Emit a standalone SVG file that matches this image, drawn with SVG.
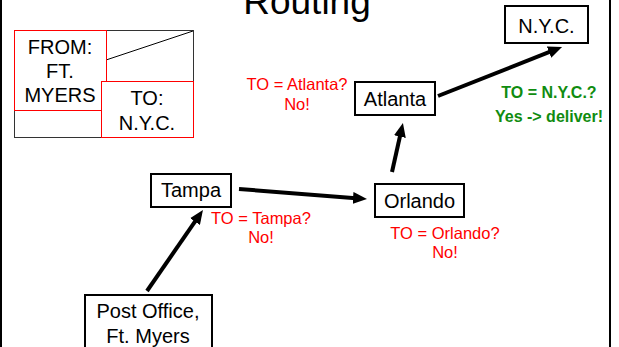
<svg xmlns="http://www.w3.org/2000/svg" width="619" height="347" viewBox="0 0 619 347">
<defs>
<style>
text{font-family:"Liberation Sans",Arial,sans-serif;}
.box{fill:#fff;stroke:#000;stroke-width:2;}
.lbl{font-size:20px;fill:#000;text-anchor:middle;}
.red{font-size:16.5px;fill:#ff0000;text-anchor:middle;}
.grn{font-size:16px;fill:#108c10;font-weight:bold;text-anchor:middle;}
.stamp{font-size:20px;fill:#000;text-anchor:middle;}
.conn{stroke:#000;stroke-width:4;fill:none;marker-end:url(#ah);}
</style>
<marker id="ah" markerUnits="userSpaceOnUse" markerWidth="14" markerHeight="12" refX="6" refY="6" orient="auto">
<path d="M0,0 L14,6 L0,12 z" fill="#000"/>
</marker>
</defs>
<rect width="619" height="347" fill="#fff"/>
<line x1="1" y1="0" x2="1" y2="347" stroke="#000" stroke-width="2"/>
<line x1="610" y1="0" x2="610" y2="347" stroke="#000" stroke-width="2"/>
<text x="307" y="14" font-size="37" text-anchor="middle" fill="#000">Routing</text>

<g id="envelope">
<rect x="14.5" y="30.5" width="179" height="107" fill="#fff" stroke="#333" stroke-width="1"/>
<line x1="106" y1="60" x2="193" y2="31" stroke="#000" stroke-width="1"/>
<rect x="14.5" y="30.5" width="92" height="80" fill="#fff" stroke="#ff0000" stroke-width="1"/>
<rect x="101.5" y="81.5" width="92" height="56" fill="#fff" stroke="#ff0000" stroke-width="1"/>
<text class="stamp" x="60" y="54">FROM:</text>
<text class="stamp" x="60" y="78">FT.</text>
<text class="stamp" x="60" y="102">MYERS</text>
<text class="stamp" x="147" y="105">TO:</text>
<text class="stamp" x="147" y="130">N.Y.C.</text>
</g>

<g id="connectors">
<line class="conn" x1="147" y1="291" x2="198.4" y2="216.6"/>
<line class="conn" x1="239" y1="189" x2="359" y2="198.4"/>
<line class="conn" x1="392" y1="172" x2="401.2" y2="130.8"/>
<line class="conn" x1="438" y1="96" x2="554.6" y2="49.9"/>
</g>

<g id="post-office">
<rect class="box" x="85" y="295" width="127" height="60"/>
<text class="lbl" x="148" y="318">Post Office,</text>
<text class="lbl" x="148" y="343">Ft. Myers</text>
</g>

<g id="tampa">
<rect class="box" x="151" y="174" width="80" height="33"/>
<text class="lbl" x="191" y="197">Tampa</text>
<text class="red" x="261" y="224">TO = Tampa?</text>
<text class="red" x="261" y="243">No!</text>
</g>

<g id="orlando">
<rect class="box" x="375" y="184" width="89" height="33"/>
<text class="lbl" x="419.5" y="208">Orlando</text>
<text class="red" x="445" y="239">TO = Orlando?</text>
<text class="red" x="445" y="258">No!</text>
</g>

<g id="atlanta">
<rect class="box" x="355" y="82" width="80" height="33"/>
<text class="lbl" x="395" y="106">Atlanta</text>
<text class="red" x="297" y="90">TO = Atlanta?</text>
<text class="red" x="297" y="110">No!</text>
</g>

<g id="nyc">
<rect class="box" x="505" y="6" width="83" height="37"/>
<text class="lbl" x="546.5" y="33">N.Y.C.</text>
<text class="grn" x="549" y="98">TO = N.Y.C.?</text>
<text class="grn" x="549" y="122">Yes -&gt; deliver!</text>
</g>
</svg>
